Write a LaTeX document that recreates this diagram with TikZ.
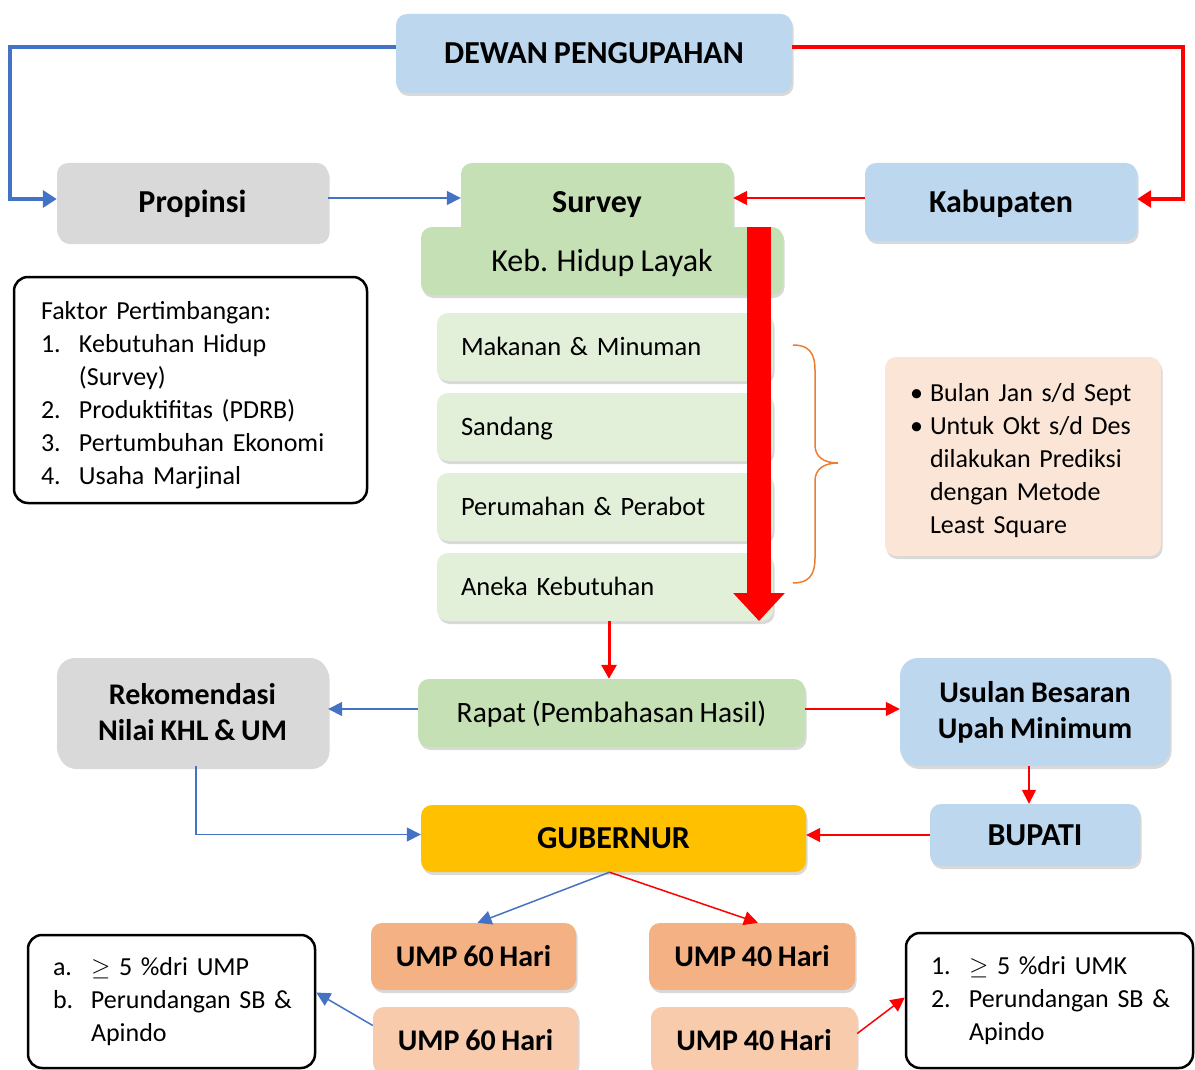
\documentclass[tikz,border=0pt]{standalone}
\usepackage{fontspec}
\setmainfont{Carlito}[WordSpace=0.85]
\usepackage{amsmath}
\usepackage{amssymb}
\usetikzlibrary{arrows.meta,shadows}

\definecolor{skyfill}{HTML}{BDD7EE}
\definecolor{greyfill}{HTML}{D9D9D9}
\definecolor{greenfill}{HTML}{C5E0B4}
\definecolor{itemgreen}{HTML}{E2F0D9}
\definecolor{peachfill}{HTML}{FBE5D6}
\definecolor{goldfill}{HTML}{FFC000}
\definecolor{umpdark}{HTML}{F4B183}
\definecolor{umplight}{HTML}{F8CBAD}
\definecolor{lineblue}{HTML}{4472C4}
\definecolor{braceorange}{HTML}{ED7D31}

\newcommand{\lab}[1]{\makebox[38pt][l]{#1}}
\newcommand{\dotlab}{\makebox[20pt][l]{•}}

\begin{document}
\begin{tikzpicture}[x=1pt,y=-1pt,
  card/.style={rounded corners=11pt,inner sep=0pt,align=center,
    drop shadow={shadow xshift=1.5pt,shadow yshift=-3pt,opacity=0.3}},
  headtxt/.style={font=\fontsize{32}{36}\selectfont\bfseries,text height=20.5pt,text depth=0pt},
  twotxt/.style={font=\fontsize{30}{36}\selectfont\bfseries},
  umptxt/.style={font=\fontsize{30}{36}\selectfont\bfseries,text height=19.3pt,text depth=0pt},
  itembox/.style={card,fill=itemgreen,minimum height=68pt,text width=288pt,
    inner xsep=24pt,align=left,font=\fontsize{26.5}{32}\selectfont,text height=17pt,text depth=0pt},
  notebox/.style={draw=black,line width=2.5pt,rounded corners=14pt,fill=white,
    align=left,font=\fontsize{26}{33}\selectfont},
  blueline/.style={draw=lineblue,line width=1.5pt,-{Triangle[length=14pt,width=14pt]}},
  redline/.style={draw=red,line width=1.5pt,-{Triangle[length=14pt,width=14pt]}}]
\useasboundingbox (0,0) rectangle (1195,1070);

% top row
\node[card,fill=skyfill,minimum width=396pt,minimum height=79pt,headtxt] (dewan) at (594,53.5) {DEWAN PENGUPAHAN};
\node[card,fill=greyfill,minimum width=271pt,minimum height=78pt,headtxt] (prop) at (192.5,202) {Propinsi};
\node[card,fill=greenfill,minimum width=272pt,minimum height=78pt,headtxt] (survey) at (597,202) {Survey};
\node[card,fill=skyfill,minimum width=272pt,minimum height=78pt,headtxt] (kab) at (1001,202) {Kabupaten};

% survey detail
\node[card,fill=greenfill,minimum width=362pt,minimum height=68pt,font=\fontsize{32}{37}\selectfont,
  text height=20.6pt,text depth=0pt] (keb) at (602,261) {Keb. Hidup Layak};
\node[itembox] (makan) at (605,347) {Makanan \& Minuman};
\node[itembox] (sandang) at (605,427) {Sandang};
\node[itembox] (rumah) at (605,507) {Perumahan \& Perabot};
\node[itembox] (aneka) at (605,587) {Aneka Kebutuhan};

\coordinate (bigtop) at (759,227);
\coordinate (bigtip) at (759,621);
\draw[red,line width=24pt,-{Triangle[length=28pt,width=50pt]}] (bigtop) -- (bigtip);

% side notes
\node[notebox,text width=299pt,inner xsep=27pt,minimum height=226pt] (faktor) at (190.5,390)
  {\rule{0pt}{28pt}Faktor Pertimbangan:\\ \lab{1.}Kebutuhan Hidup\\ \lab{}(Survey)\\ \lab{2.}Produktifitas (PDRB)\\
   \lab{3.}Pertumbuhan Ekonomi\\ \lab{4.}Usaha Marjinal};
\node[card,fill=peachfill,text width=226pt,inner xsep=25pt,minimum height=199pt,align=left,
  font=\fontsize{26}{33}\selectfont] (info) at (1023,456.5)
  {\rule{0pt}{25.5pt}\dotlab Bulan Jan s/d Sept\\ \dotlab Untuk Okt s/d Des\\ \hspace*{20pt}dilakukan Prediksi\\
   \hspace*{20pt}dengan Metode\\ \hspace*{20pt}Least Square};

\draw[braceorange,line width=1.5pt] (793,345) .. controls (808,345) and (815,352) .. (815,370) -- (815,445)
  .. controls (815,457) and (824,463) .. (838,463) .. controls (824,463) and (815,469) .. (815,481)
  -- (815,558) .. controls (815,576) and (808,583) .. (793,583);

% middle row
\node[card,fill=greenfill,minimum width=387pt,minimum height=68pt,font=\fontsize{29.5}{35}\selectfont,
  text height=19pt,text depth=0pt] (rapat) at (611.5,713) {Rapat (Pembahasan Hasil)};
\node[card,fill=greyfill,rounded corners=18pt,minimum width=271pt,minimum height=108pt,twotxt] (rekom) at (192.5,712) {Rekomendasi\\Nilai KHL \& UM};
\node[card,fill=skyfill,rounded corners=18pt,minimum width=270pt,minimum height=108pt,twotxt] (usulan) at (1035,712) {Usulan Besaran\\Upah Minimum};
\node[card,fill=skyfill,minimum width=210pt,minimum height=62pt,headtxt] (bupati) at (1035,835) {BUPATI};
\node[card,fill=goldfill,minimum width=385pt,minimum height=67pt,headtxt] (gub) at (613.5,838.5) {GUBERNUR};

% bottom row
\node[card,fill=umpdark,minimum width=205pt,minimum height=67pt,umptxt] (umpa) at (473.5,956.5) {UMP 60 Hari};
\node[card,fill=umplight,minimum width=205pt,minimum height=67pt,umptxt] (umpb) at (475.5,1040.5) {UMP 60 Hari};
\node[card,fill=umpdark,minimum width=206pt,minimum height=67pt,umptxt] (umpc) at (752,956.5) {UMP 40 Hari};
\node[card,fill=umplight,minimum width=206pt,minimum height=67pt,umptxt] (umpd) at (754,1040.5) {UMP 40 Hari};

\node[notebox,text width=237pt,inner xsep=25pt,minimum height=133pt] (syarata) at (171.5,1001.5)
  {\lab{a.}\mbox{$\geq$ 5 \%dri UMP}\\ \lab{b.}\mbox{Perundangan SB \&}\\ \lab{}Apindo};
\node[notebox,text width=237pt,inner xsep=25pt,minimum height=135pt] (syaratb) at (1049.5,1000.5)
  {\lab{1.}\mbox{$\geq$ 5 \%dri UMK}\\ \lab{2.}\mbox{Perundangan SB \&}\\ \lab{}Apindo};

% connectors
\coordinate (lcorner) at (10,47);
\coordinate (rcorner) at (1183,47);
\draw[draw=lineblue,line width=3.5pt,-{Triangle[length=14pt,width=17pt]}] ([yshift=6.5pt]dewan.west) -- (lcorner) |- ([yshift=3pt]prop.west);
\draw[draw=red,line width=3.5pt,-{Triangle[length=14pt,width=17pt]}] ([yshift=6.5pt]dewan.east) -- (rcorner) |- ([yshift=3pt]kab.east);
\draw[blueline] ([yshift=4pt]prop.east) -- ([yshift=4pt]survey.west);
\draw[redline] ([yshift=4pt]kab.west) -- ([yshift=4pt]survey.east);

\draw[draw=red,line width=3pt,-{Triangle[length=14pt,width=15pt]}] ([xshift=4pt]aneka.south) -- ([xshift=4pt]aneka.south |- rapat.north);
\draw[blueline] ([yshift=4pt]rapat.west) -- ([yshift=4pt]rapat.west -| rekom.east);
\draw[redline] ([yshift=4pt]rapat.east) -- ([yshift=4pt]rapat.east -| usulan.west);
\draw[redline] ([xshift=-6pt]usulan.south) -- ([xshift=-6pt]bupati.north);
\draw[redline] (bupati.west) -- (bupati.west -| gub.east);
\draw[blueline] ([xshift=3.5pt]rekom.south) |- ([yshift=4pt]gub.west);

\draw[blueline] ([xshift=-4pt]gub.south) -- ([xshift=4pt]umpa.north);
\draw[redline] ([xshift=-4pt]gub.south) -- ([xshift=6pt]umpc.north);
\draw[blueline] ([yshift=15pt]umpb.west) -- ([yshift=9pt]syarata.east);
\draw[redline] ([yshift=7pt]umpd.east) -- ([yshift=3pt]syaratb.west);
\end{tikzpicture}
\end{document}
